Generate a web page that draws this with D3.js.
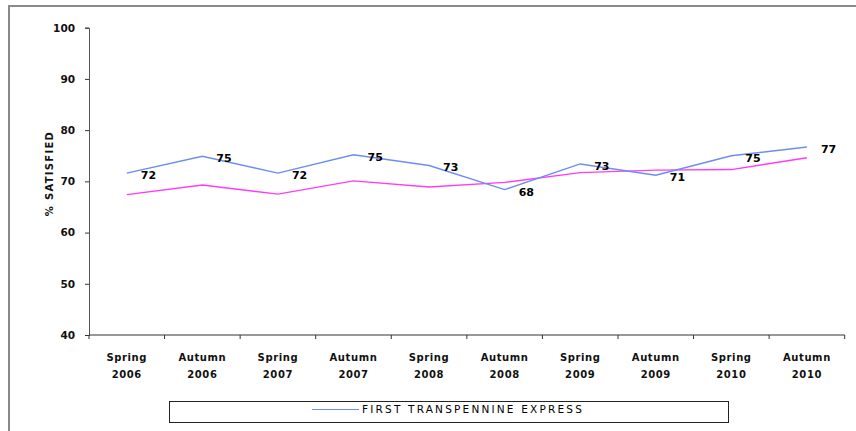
<!DOCTYPE html>
<html>
<head>
<meta charset="utf-8">
<script src="https://cdn.jsdelivr.net/npm/d3@7"></script>
<style>
  body { margin: 0; background: #fff; }
  svg { display: block; }
  .tick text { font-family: "DejaVu Sans", sans-serif; font-weight: bold; }
</style>
</head>
<body>
<div id="chart"></div>
<script>
// survey waves
const seasons = ["Spring", "Autumn", "Spring", "Autumn", "Spring", "Autumn", "Spring", "Autumn", "Spring", "Autumn"];
const years = ["2006", "2006", "2007", "2007", "2008", "2008", "2009", "2009", "2010", "2010"];
const waves = seasons.map((s, i) => s + " " + years[i]);

// % satisfied - First TransPennine Express (labelled) and comparison line
const tpeValues = [71.6, 74.9, 71.6, 75.2, 73.1, 68.4, 73.4, 71.2, 75.0, 76.7];
const otherValues = [67.4, 69.3, 67.5, 70.1, 68.9, 69.8, 71.7, 72.2, 72.3, 74.6];
const yTicks = [40, 50, 60, 70, 80, 90, 100];
const legendLabel = "FIRST TRANSPENNINE EXPRESS";

const width = 856, height = 431;
const margin = {top: 27.7, right: 11.3, bottom: 96, left: 89};

const svg = d3.select("#chart").append("svg")
    .attr("width", width)
    .attr("height", height);

// outer frame (runs off the right and bottom edges)
svg.append("rect")
    .attr("x", 9).attr("y", 6)
    .attr("width", 900).attr("height", 500)
    .attr("fill", "none")
    .attr("stroke", "#8a8a8a")
    .attr("stroke-width", 2);

const x = d3.scaleBand()
    .domain(waves)
    .range([margin.left, width - margin.right]);

const y = d3.scaleLinear()
    .domain([40, 100])
    .range([height - margin.bottom, margin.top]);

// y axis
const yAxis = svg.append("g")
    .attr("transform", `translate(${margin.left},0)`)
    .call(d3.axisLeft(y).tickValues(yTicks).tickSize(4).tickPadding(10));
yAxis.select(".domain").attr("stroke", "#555");
yAxis.selectAll(".tick line").attr("stroke", "#333");
yAxis.selectAll(".tick text").attr("font-size", 10.5).attr("fill", "#111");

// x axis - ticks sit on band boundaries
const xAxisG = svg.append("g");
xAxisG.append("line")
    .attr("x1", margin.left).attr("x2", width - margin.right)
    .attr("y1", y(40)).attr("y2", y(40))
    .attr("stroke", "#333");
const boundaries = waves.map(w => x(w)).concat([x.range()[1]]);
xAxisG.selectAll(".xtick")
    .data(boundaries)
    .enter().append("line")
    .attr("class", "xtick")
    .attr("x1", d => d).attr("x2", d => d)
    .attr("y1", y(40)).attr("y2", y(40) + 4)
    .attr("stroke", "#333");

const xLabels = xAxisG.selectAll(".xlab")
    .data(waves)
    .enter().append("text")
    .attr("class", "xlab")
    .attr("text-anchor", "middle")
    .attr("font-family", "DejaVu Sans, sans-serif")
    .attr("font-weight", "bold")
    .attr("font-size", 10)
    .attr("letter-spacing", 0.6)
    .attr("fill", "#111");
xLabels.append("tspan")
    .attr("x", d => x(d) + x.bandwidth() / 2)
    .attr("y", 361)
    .text((d, i) => seasons[i]);
xLabels.append("tspan")
    .attr("x", d => x(d) + x.bandwidth() / 2)
    .attr("y", 378)
    .text((d, i) => years[i]);

// y axis title
svg.append("text")
    .attr("transform", `translate(53,173.5) rotate(-90)`)
    .attr("text-anchor", "middle")
    .attr("font-family", "DejaVu Sans, sans-serif")
    .attr("font-weight", "bold")
    .attr("font-size", 10)
    .attr("letter-spacing", 1.3)
    .attr("fill", "#111")
    .text("% SATISFIED");

const line = d3.line()
    .x((d, i) => x(waves[i]) + x.bandwidth() / 2)
    .y(d => y(d));

svg.append("path")
    .datum(otherValues)
    .attr("fill", "none")
    .attr("stroke", "#ff3cf5")
    .attr("stroke-width", 1.4)
    .attr("d", line);

svg.append("path")
    .datum(tpeValues)
    .attr("fill", "none")
    .attr("stroke", "#6b8df2")
    .attr("stroke-width", 1.4)
    .attr("d", line);

// data labels, to the right of each point
svg.selectAll(".dlab")
    .data(tpeValues)
    .enter().append("text")
    .attr("class", "dlab")
    .attr("x", (d, i) => x(waves[i]) + x.bandwidth() / 2 + 14)
    .attr("y", d => y(d) + 6)
    .attr("font-family", "DejaVu Sans, sans-serif")
    .attr("font-weight", "bold")
    .attr("font-size", 11)
    .attr("fill", "#000")
    .text(d => d3.format(".0f")(d));

// legend
const legend = svg.append("g");
legend.append("rect")
    .attr("x", 169.5).attr("y", 401.5)
    .attr("width", 559).attr("height", 21)
    .attr("fill", "#fff")
    .attr("stroke", "#222");
legend.append("line")
    .attr("x1", 312).attr("x2", 359)
    .attr("y1", 409.5).attr("y2", 409.5)
    .attr("stroke", "#6b8df2")
    .attr("stroke-width", 1.2);
legend.append("text")
    .attr("x", 362).attr("y", 413)
    .attr("font-family", "DejaVu Sans, sans-serif")
    .attr("font-size", 10.5)
    .attr("letter-spacing", 2.2)
    .attr("fill", "#000")
    .text(legendLabel);
</script>
</body>
</html>
